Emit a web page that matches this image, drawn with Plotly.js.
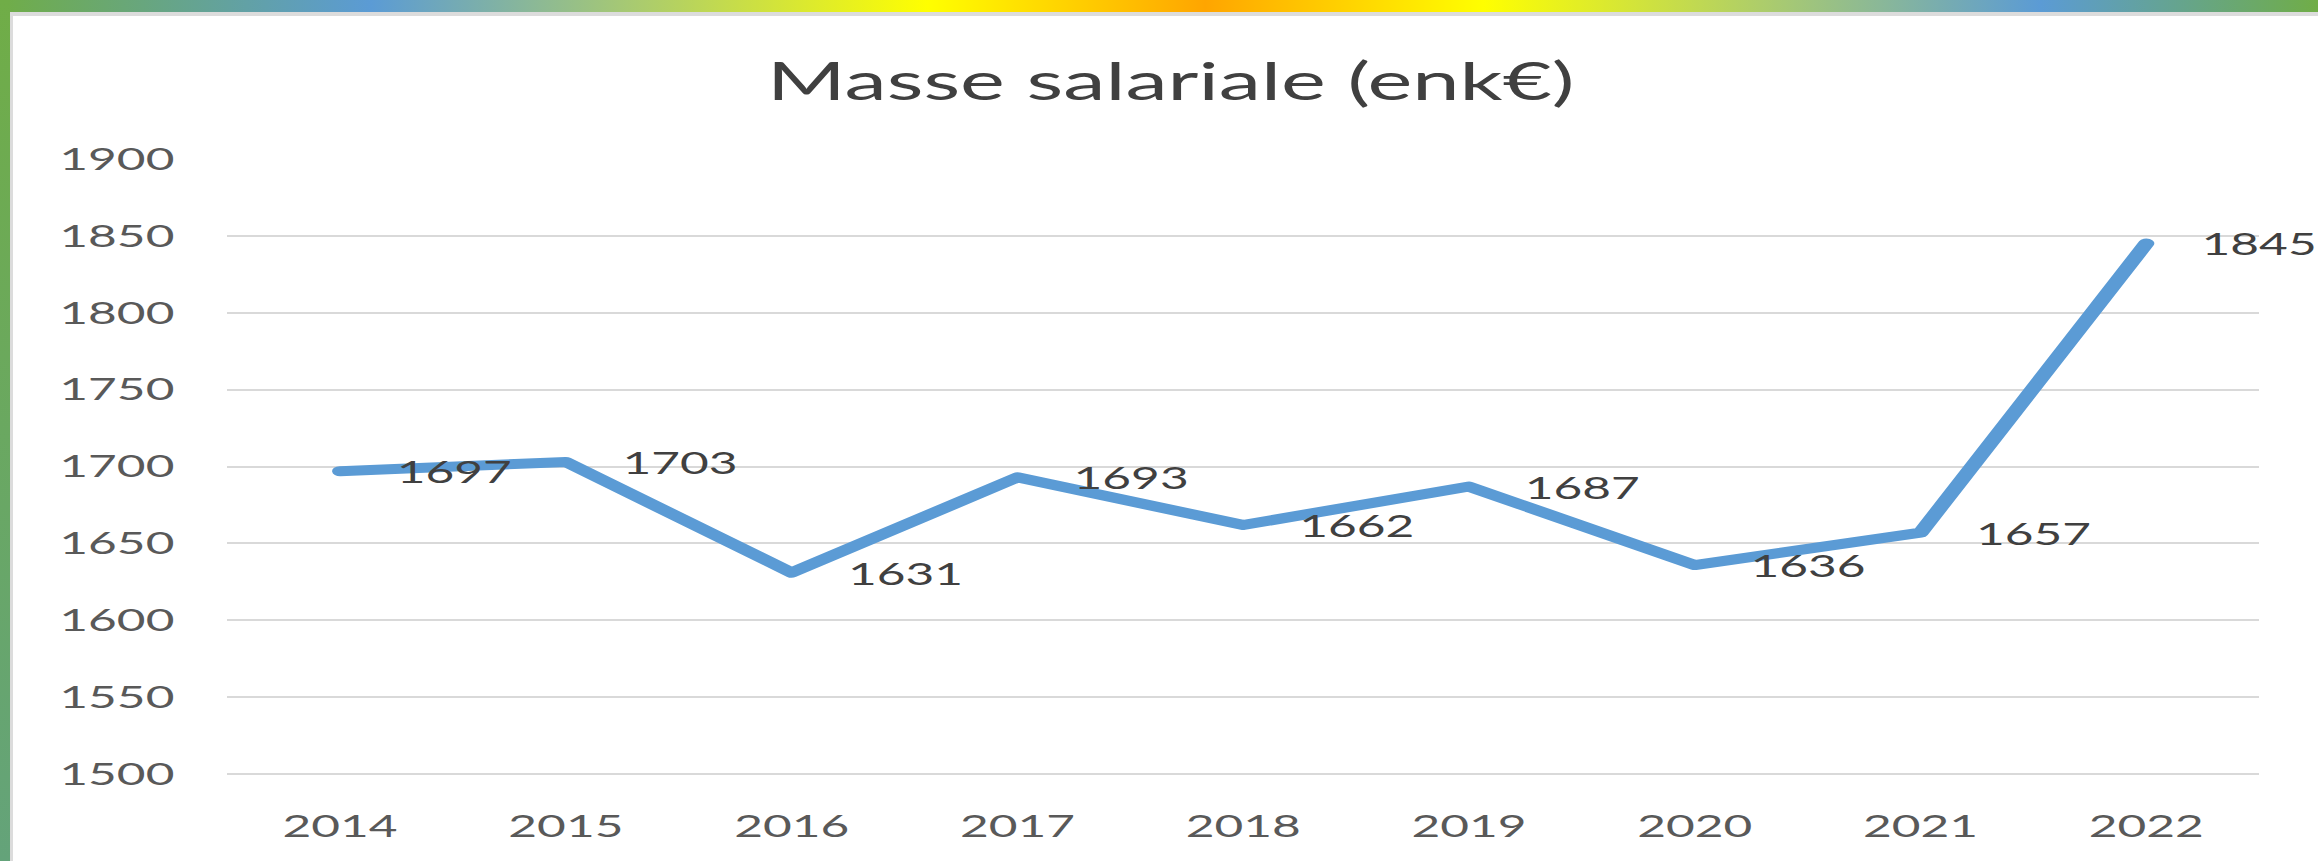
<!DOCTYPE html>
<html><head><meta charset="utf-8">
<script src="https://cdn.plot.ly/plotly-3.0.1.min.js"></script>
<style>
html,body{margin:0;padding:0;background:#fff;overflow:hidden;}
#wrap{position:relative;width:2318px;height:861px;overflow:hidden;background:#fff;}
#chart{position:absolute;left:0;top:0;width:1449px;height:861px;transform:scaleX(1.6);transform-origin:0 0;}
#chart path.js-line{stroke-linecap:round !important;stroke-linejoin:round !important;}
#topbar{position:absolute;left:0;top:0;width:2318px;height:12px;background:linear-gradient(to right,#70ad47 0%,#5b9bd5 16%,#ffff00 40%,#ffa500 52%,#ffff00 64%,#5b9bd5 88%,#70ad47 100%);z-index:5}
#topshadow{position:absolute;left:0;top:12px;width:2318px;height:4px;background:#dcdcdc;z-index:4}
#leftbar{position:absolute;left:0;top:0;width:10px;height:861px;background:linear-gradient(to bottom,#70ad47,#64a37a);z-index:6}
#leftshadow{position:absolute;left:10px;top:12px;width:3px;height:849px;background:#dcdcdc;z-index:4}
</style>
</head><body>
<div id="wrap">
<div id="chart"></div>
<div id="topbar"></div><div id="topshadow"></div><div id="leftbar"></div><div id="leftshadow"></div>
</div>
<script>
const years = ['2014','2015','2016','2017','2018','2019','2020','2021','2022'];
const values = [1697,1703,1631,1693,1662,1687,1636,1657,1845];
const yTicks = [1500,1550,1600,1650,1700,1750,1800,1850,1900];
const chartTitle = 'Masse salariale (enk€)';

const FONT = 'Lato, "Open Sans", sans-serif';
const annotations = years.map((y,i)=>({
  x: i, y: values[i], text: String(values[i]), showarrow:false,
  xref:'x', yref:'y',
  xanchor:'left', yanchor:'middle', xshift: 33,
  font:{family:FONT, size:31, color:'#404040'}
}));

Plotly.newPlot('chart', [{
  x: years, y: values, type:'scatter', mode:'lines',
  line:{color:'#5b9bd5', width:10},
  hoverinfo:'skip'
}], {
  width:1449, height:861,
  paper_bgcolor:'#fff', plot_bgcolor:'#fff',
  margin:{l:141.9, r:36.6, t:157.73, b:79.31, pad:0},
  showlegend:false,
  title:{text:chartTitle, font:{family:FONT, size:53, color:'#404040'},
    x:0.505, xanchor:'center', xref:'container', y:1-81/861, yanchor:'middle', yref:'container'},
  xaxis:{type:'category', range:[-0.5,8.5], showgrid:false, showline:false, zeroline:false,
    ticks:'', tickfont:{family:FONT, size:31, color:'#595959'}, ticklabelstandoff:23},
  yaxis:{range:[1495,1900.5], tickvals:yTicks, ticktext:yTicks.map(String),
    showgrid:true, gridcolor:'#d9d9d9', gridwidth:2, zeroline:false, showline:false,
    ticks:'', tickfont:{family:FONT, size:31, color:'#595959'}, ticklabelstandoff:32},
  annotations: annotations
}, {staticPlot:true, displayModeBar:false});
</script>
</body></html>
